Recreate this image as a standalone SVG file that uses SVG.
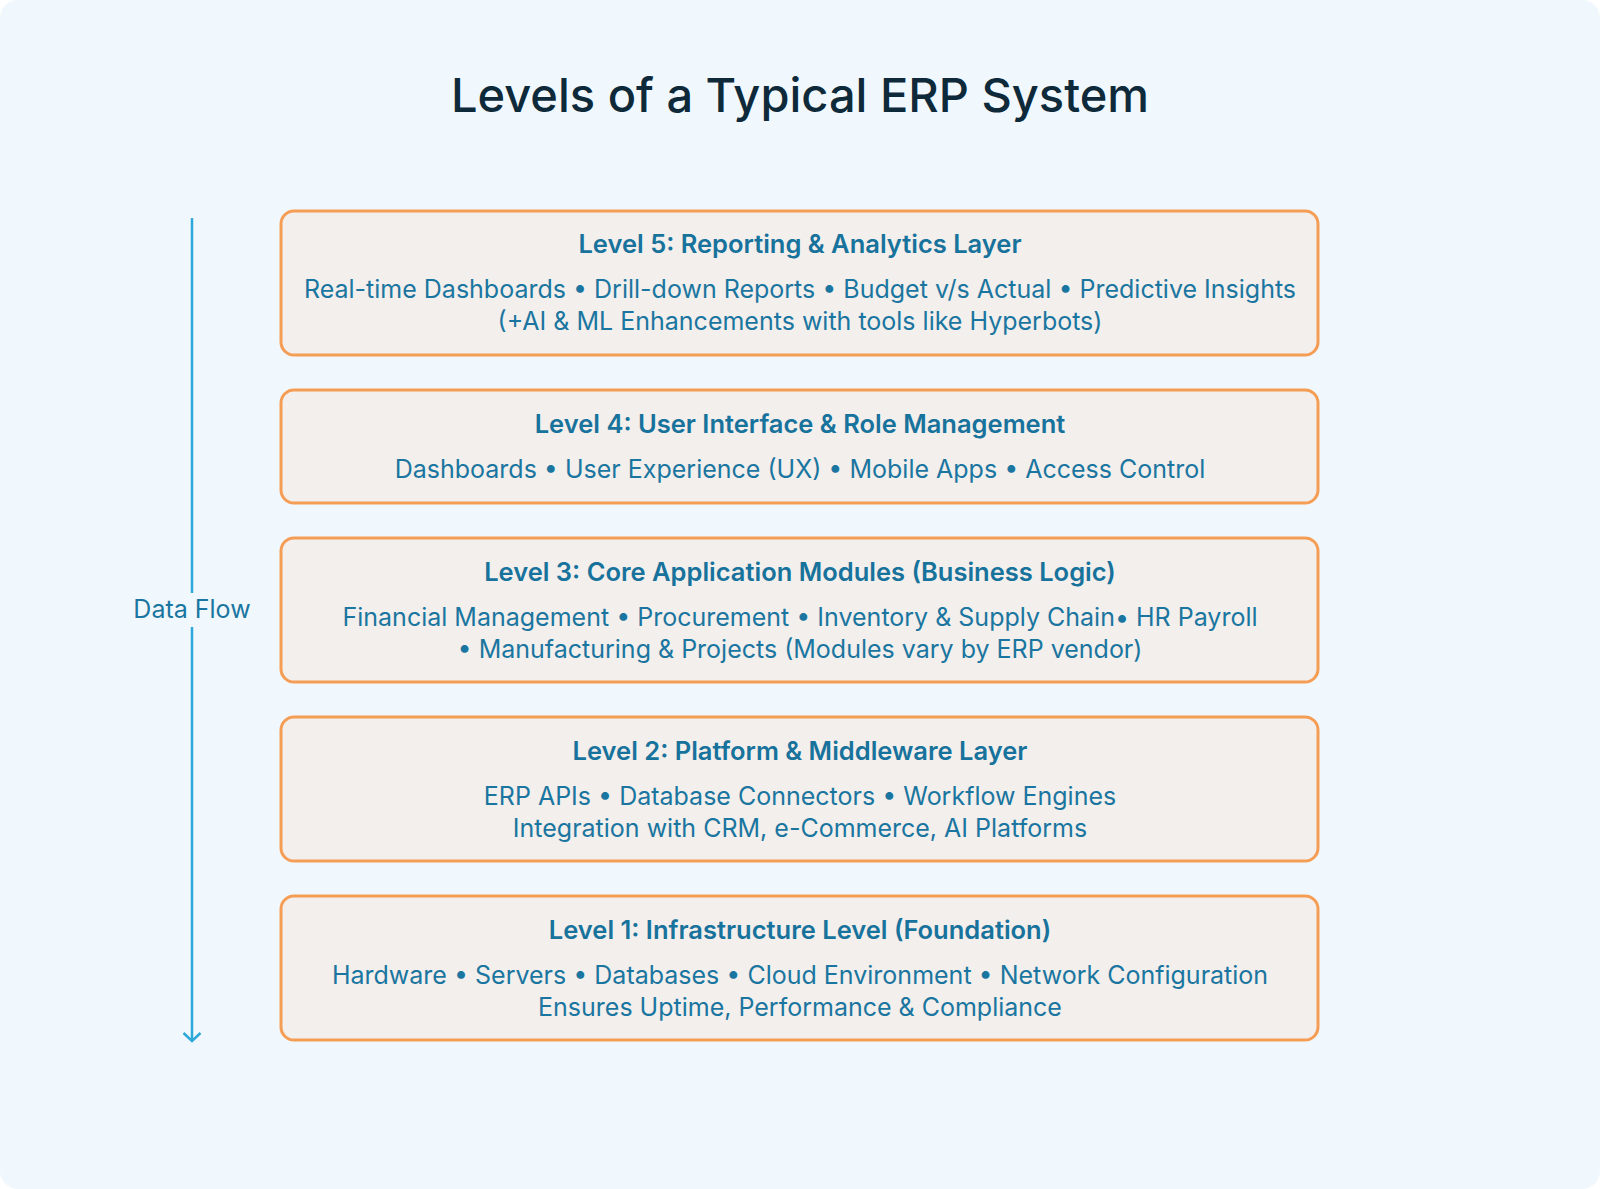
<svg xmlns="http://www.w3.org/2000/svg" width="1600" height="1189" viewBox="0 0 1600 1189">
<defs>
<style>
.bg{fill:#f1f8fd}
.box{fill:#f3efec;stroke:#f59d55;stroke-width:3}
.h{font-family:Inter,"Noto Sans",sans-serif;font-weight:600;font-size:25.5px;fill:#17729c;text-anchor:middle}
.b{font-family:Inter,"Noto Sans",sans-serif;font-weight:400;font-size:25px;fill:#1a76a0;text-anchor:middle}
.t{font-family:Inter,"Noto Sans",sans-serif;font-weight:500;font-size:47px;fill:#0e2a3a;text-anchor:middle}
.flow{stroke:#2ea8d8;stroke-width:2.5;fill:none}
</style>
<marker id="arr" viewBox="0 0 20 20" refX="18" refY="10" markerWidth="20" markerHeight="20" markerUnits="userSpaceOnUse" orient="auto">
<path d="M10 1.5 L18 10 L10 18.5" fill="none" stroke="#2ea8d8" stroke-width="2.5"/>
</marker>
</defs>
<rect width="1600" height="1189" fill="#ffffff"/>
<rect class="bg" x="0" y="0" width="1600" height="1189" rx="18"/>
<text class="t" x="800" y="112">Levels of a Typical ERP System</text>
<g id="connectors">
<path class="flow" d="M192 218 V593"/>
<path class="flow" d="M192 627 V1041" marker-end="url(#arr)"/>
<text class="b" x="192" y="618">Data Flow</text>
</g>
<g id="level5">
<rect class="box" x="281" y="211" width="1037" height="144" rx="13"/>
<text class="h" x="800" y="253">Level 5: Reporting &amp; Analytics Layer</text>
<text class="b" x="800" y="298">Real-time Dashboards • Drill-down Reports • Budget v/s Actual • Predictive Insights</text>
<text class="b" x="800" y="330">(+AI &amp; ML Enhancements with tools like Hyperbots)</text>
</g>
<g id="level4">
<rect class="box" x="281" y="390" width="1037" height="113" rx="13"/>
<text class="h" x="800" y="433">Level 4: User Interface &amp; Role Management</text>
<text class="b" x="800" y="478">Dashboards • User Experience (UX) • Mobile Apps • Access Control</text>
</g>
<g id="level3">
<rect class="box" x="281" y="538" width="1037" height="144" rx="13"/>
<text class="h" x="800" y="581">Level 3: Core Application Modules (Business Logic)</text>
<text class="b" x="800" y="626">Financial Management • Procurement • Inventory &amp; Supply Chain• HR Payroll</text>
<text class="b" x="800" y="658">• Manufacturing &amp; Projects (Modules vary by ERP vendor)</text>
</g>
<g id="level2">
<rect class="box" x="281" y="717" width="1037" height="144" rx="13"/>
<text class="h" x="800" y="760">Level 2: Platform &amp; Middleware Layer</text>
<text class="b" x="800" y="805">ERP APIs • Database Connectors • Workflow Engines</text>
<text class="b" x="800" y="837">Integration with CRM, e-Commerce, AI Platforms</text>
</g>
<g id="level1">
<rect class="box" x="281" y="896" width="1037" height="144" rx="13"/>
<text class="h" x="800" y="939">Level 1: Infrastructure Level (Foundation)</text>
<text class="b" x="800" y="984">Hardware • Servers • Databases • Cloud Environment • Network Configuration</text>
<text class="b" x="800" y="1016">Ensures Uptime, Performance &amp; Compliance</text>
</g>
</svg>
